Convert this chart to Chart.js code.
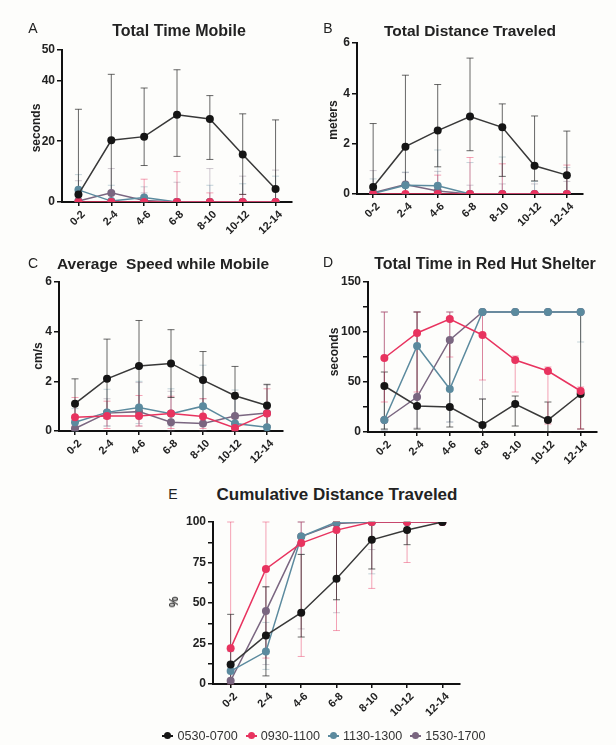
<!DOCTYPE html>
<html><head><meta charset="utf-8">
<script src="https://cdn.jsdelivr.net/npm/chart.js@4"></script>
<style>
html,body{margin:0;padding:0;background:#fdfdfb;}
body{width:616px;height:745px;position:relative;overflow:hidden;font-family:"Liberation Sans",Arial,sans-serif;color:#222;}
canvas{position:absolute;}
.t{position:absolute;font-weight:bold;white-space:nowrap;transform:translate(-50%,-50%);color:#222;}
.l{position:absolute;font-size:14px;white-space:nowrap;transform:translate(-50%,-50%);color:#222;}
.ax{position:absolute;font-weight:bold;font-size:12px;white-space:nowrap;transform:translate(-50%,-50%) rotate(-90deg);color:#222;}
#legend{position:absolute;left:16px;top:729px;width:616px;text-align:center;font-size:12.6px;color:#333;}
#legend span.it{display:inline-block;margin:0 4px;}
#legend i{display:inline-block;position:relative;width:11px;height:2px;vertical-align:middle;margin-right:4px;top:-1px;}
#legend i b{position:absolute;left:2px;top:-3px;width:7px;height:7px;border-radius:50%;}
</style></head>
<body>
<script>
// ---------- DATA ----------
const categories = ['0-2','2-4','4-6','6-8','8-10','10-12','12-14'];
const seriesNames = ['0530-0700','0930-1100','1130-1300','1530-1700'];

// A: Total Time Mobile (seconds)
const mobile0530 = [2.5, 20.3, 21.5, 28.7, 27.3, 15.6, 4.3];
const mobile0530Hi = [30.5, 42, 37.5, 43.5, 35, 29, 27];
const mobile0530Lo = [0, 0, 12, 15, 14, 2.5, 0];
const mobile0930 = [0, 0, 0, 0, 0, 0, 0];
const mobile0930Hi = [0, 0, 7.5, 10, 3, 2.5, 0];
const mobile0930Lo = [0, 0, 0, 0, 0, 0, 0];
const mobile1130 = [4, 0.3, 1.5, 0, 0, 0, 0];
const mobile1130Hi = [9, 5.5, 5, 1, 5.5, 6, 8.5];
const mobile1130Lo = [0, 0, 0, 0, 0, 0, 0];
const mobile1530 = [0.3, 3, 0.5, 0, 0, 0, 0];
const mobile1530Hi = [7, 11, 3, 6.5, 11, 8.5, 10.5];
const mobile1530Lo = [0, 0, 0, 0, 0, 0, 0];
const mobileTicks = [0, 20, 40, 50];

// B: Total Distance Traveled (meters)
const dist0530 = [0.28, 1.88, 2.52, 3.08, 2.65, 1.12, 0.75];
const dist0530Hi = [2.8, 4.72, 4.35, 5.4, 3.58, 3.1, 2.5];
const dist0530Lo = [0, 0, 1.08, 1.72, 0.7, 0.52, 0];
const dist0930 = [0, 0, 0, 0, 0, 0, 0];
const dist0930Hi = [0, 0, 0.75, 1.45, 1.2, 0, 1.15];
const dist0930Lo = [0, 0, 0, 0, 0, 0, 0];
const dist1130 = [0.02, 0.35, 0.33, 0, 0, 0, 0];
const dist1130Hi = [0.6, 0.87, 1.75, 1.25, 1.47, 0.5, 1.05];
const dist1130Lo = [0, 0, 0, 0, 0, 0, 0];
const dist1530 = [0.05, 0.38, 0.12, 0, 0, 0, 0];
const dist1530Hi = [0.93, 0.85, 0.9, 0.35, 0.4, 0.4, 0.5];
const dist1530Lo = [0, 0, 0, 0, 0, 0, 0];
const distTicks = [0, 2, 4, 6];

// C: Average Speed while Mobile (cm/s)
const speed0530 = [1.1, 2.1, 2.62, 2.72, 2.05, 1.42, 1.03];
const speed0530Hi = [2.1, 3.7, 4.45, 4.08, 3.2, 2.6, 1.88];
const speed0530Lo = [0.1, 0.5, 0.8, 1.35, 0.9, 0.25, 0.2];
const speed0930 = [0.55, 0.6, 0.6, 0.7, 0.58, 0.12, 0.7];
const speed0930Hi = [1.35, 1.2, 1.43, 1.4, 1.3, 0.5, 1.7];
const speed0930Lo = [0.2, 0.1, 0.2, 0.1, 0.1, 0, 0.2];
const speed1130 = [0.35, 0.75, 0.95, 0.7, 1.0, 0.3, 0.15];
const speed1130Hi = [0.9, 1.68, 2.0, 1.7, 2.65, 1.65, 0.6];
const speed1130Lo = [0, 0.2, 0.3, 0.2, 0.3, 0, 0];
const speed1530 = [0.1, 0.72, 0.78, 0.35, 0.3, 0.6, 0.72];
const speed1530Hi = [0.6, 1.3, 1.95, 1.6, 1.3, 1.55, 1.85];
const speed1530Lo = [0, 0.2, 0.2, 0, 0, 0.1, 0.2];
const speedTicks = [0, 2, 4, 6];

// D: Total Time in Red Hut Shelter (seconds)
const shelter0530 = [46, 26, 25, 7, 28, 12, 38];
const shelter0530Hi = [60, 120, 92, 33, 36, 30, 120];
const shelter0530Lo = [3, 3, 5, 0, 6, 0, 3];
const shelter0930 = [74, 99, 113, 97, 72, 61, 41];
const shelter0930Hi = [120, 120, 120, 120, 76, 65, 45];
const shelter0930Lo = [30, 40, 75, 52, 40, 8, 3];
const shelter1130 = [12, 86, 43, 120, 120, 120, 120];
const shelter1130Hi = [120, 120, 120, 120, 120, 120, 120];
const shelter1130Lo = [2, 35, 10, 120, 120, 120, 90];
const shelter1530 = [12, 35, 92, 120, 120, 120, 120];
const shelter1530Hi = [120, 120, 120, 120, 120, 120, 120];
const shelter1530Lo = [2, 4, 10, 33, 120, 120, 120];
const shelterTicks = [0, 25, 50, 75, 100, 125, 150];

// E: Cumulative Distance Traveled (%)
const cum0530 = [12, 30, 44, 65, 89, 95, 100];
const cum0530Hi = [43, 60, 80, 100, 100, 100, 100];
const cum0530Lo = [0, 5, 29, 52, 71, 86, 100];
const cum0930 = [22, 71, 87, 95, 100, 100, 100];
const cum0930Hi = [100, 100, 100, 100, 100, 100, 100];
const cum0930Lo = [0, 16, 17, 33, 59, 75, 100];
const cum1130 = [8, 20, 91, 100, 100, 100, 100];
const cum1130Hi = [20, 38, 100, 100, 100, 100, 100];
const cum1130Lo = [0, 9, 80, 100, 68, 100, 100];
const cum1530 = [2, 45, 91, 99, 100, 100, 100];
const cum1530Hi = [10, 60, 100, 100, 100, 100, 100];
const cum1530Lo = [0, 12, 34, 44, 83, 100, 100];
const cumTicks = [0, 12.5, 25, 37.5, 50, 62.5, 75, 87.5, 100];

// ---------- STYLE ----------
const COLORS = ['#151515', '#e8335f', '#5b8a9e', '#7a6680'];
const LINECOLORS = ['#383838', '#e8335f', '#5b8a9e', '#7a6680'];
const ERRCOLORS = ['rgba(40,40,40,0.7)', 'rgba(232,51,95,0.45)', 'rgba(91,138,158,0.35)', 'rgba(122,102,128,0.35)'];
const FONT = "'Liberation Sans', Arial, sans-serif";

const errorBars = {
  id: 'errorBars',
  beforeDatasetsDraw(chart) {
    const ctx = chart.ctx, ys = chart.scales.y;
    for (let i = chart.data.datasets.length - 1; i >= 0; i--) {
      const ds = chart.data.datasets[i];
      const meta = chart.getDatasetMeta(i);
      ctx.save();
      ctx.strokeStyle = ds.errColor;
      ctx.lineWidth = 1;
      meta.data.forEach((pt, j) => {
        const x = pt.x;
        const yv = ys.getPixelForValue(ds.data[j]);
        const yh = ys.getPixelForValue(ds.errHi[j]);
        const yl = ys.getPixelForValue(ds.errLo[j]);
        ctx.beginPath();
        ctx.moveTo(x, yl); ctx.lineTo(x, yh);
        if (Math.abs(yh - yv) > 1) { ctx.moveTo(x - 3.5, yh); ctx.lineTo(x + 3.5, yh); }
        if (Math.abs(yl - yv) > 1) { ctx.moveTo(x - 3.5, yl); ctx.lineTo(x + 3.5, yl); }
        ctx.stroke();
      });
      ctx.restore();
    }
  }
};

function addText(cls, txt, x, y, size) {
  const d = document.createElement('div');
  d.className = cls; d.textContent = txt;
  d.style.left = x + 'px'; d.style.top = y + 'px';
  if (size) d.style.fontSize = size + 'px';
  document.body.appendChild(d);
}

function makePanel(box, series, ymax, ticks, labelEvery) {
  const padL = 50, padT = 12, padR = 12, xH = 46;
  const cv = document.createElement('canvas');
  const w = box.R - box.L + padL + padR, h = box.B - box.T + padT + xH;
  cv.width = w; cv.height = h;
  cv.style.left = (box.L - padL) + 'px'; cv.style.top = (box.T - padT) + 'px';
  cv.style.width = w + 'px'; cv.style.height = h + 'px';
  document.body.appendChild(cv);
  const datasets = series.map((s, i) => ({
    label: seriesNames[s.idx],
    data: s.v, errHi: s.hi, errLo: s.lo,
    errColor: ERRCOLORS[s.idx],
    borderColor: LINECOLORS[s.idx],
    backgroundColor: COLORS[s.idx],
    pointBackgroundColor: COLORS[s.idx],
    pointBorderColor: COLORS[s.idx],
    pointRadius: 4, pointBorderWidth: 0, borderWidth: 1.5, tension: 0
  }));
  new Chart(cv, {
    type: 'line',
    data: { labels: categories, datasets },
    plugins: [errorBars],
    options: {
      responsive: false, animation: false, devicePixelRatio: 1,
      layout: { padding: { left: 0, top: padT, right: padR, bottom: 0 } },
      plugins: { legend: { display: false }, tooltip: { enabled: false }, title: { display: false } },
      scales: {
        x: {
          type: 'category', offset: true,
          grid: { offset: false, drawOnChartArea: false, tickLength: 4, color: '#111', lineWidth: 1.5 },
          border: { color: '#111', width: 2 },
          ticks: { autoSkip: false, maxRotation: 45, minRotation: 45, padding: 2, labelOffset: 5, color: '#222',
                   font: { family: FONT, size: 11, weight: 'bold' } },
          afterFit: s => { s.height = xH; }
        },
        y: {
          min: 0, max: ymax,
          afterBuildTicks: s => { s.ticks = ticks.map(v => ({ value: v })); },
          grid: { drawOnChartArea: false, tickLength: 5, color: '#111', lineWidth: 1.5 },
          border: { color: '#111', width: 2 },
          ticks: { padding: 2, color: '#222', font: { family: FONT, size: 12, weight: 'bold' },
                   callback: v => (v % labelEvery === 0 ? String(v) : '') },
          afterFit: s => { s.width = padL; }
        }
      }
    }
  });
}

// order: first dataset drawn on top
makePanel({ L: 62, T: 50, R: 292, B: 202 }, [
  { idx: 0, v: mobile0530, hi: mobile0530Hi, lo: mobile0530Lo },
  { idx: 1, v: mobile0930, hi: mobile0930Hi, lo: mobile0930Lo },
  { idx: 2, v: mobile1130, hi: mobile1130Hi, lo: mobile1130Lo },
  { idx: 3, v: mobile1530, hi: mobile1530Hi, lo: mobile1530Lo }
], 50, mobileTicks, 10);

makePanel({ L: 357, T: 43, R: 583, B: 194 }, [
  { idx: 0, v: dist0530, hi: dist0530Hi, lo: dist0530Lo },
  { idx: 1, v: dist0930, hi: dist0930Hi, lo: dist0930Lo },
  { idx: 2, v: dist1130, hi: dist1130Hi, lo: dist1130Lo },
  { idx: 3, v: dist1530, hi: dist1530Hi, lo: dist1530Lo }
], 6, distTicks, 2);

makePanel({ L: 59, T: 282, R: 283, B: 431 }, [
  { idx: 0, v: speed0530, hi: speed0530Hi, lo: speed0530Lo },
  { idx: 1, v: speed0930, hi: speed0930Hi, lo: speed0930Lo },
  { idx: 2, v: speed1130, hi: speed1130Hi, lo: speed1130Lo },
  { idx: 3, v: speed1530, hi: speed1530Hi, lo: speed1530Lo }
], 6, speedTicks, 2);

makePanel({ L: 368, T: 282, R: 597, B: 432 }, [
  { idx: 1, v: shelter0930, hi: shelter0930Hi, lo: shelter0930Lo },
  { idx: 0, v: shelter0530, hi: shelter0530Hi, lo: shelter0530Lo },
  { idx: 2, v: shelter1130, hi: shelter1130Hi, lo: shelter1130Lo },
  { idx: 3, v: shelter1530, hi: shelter1530Hi, lo: shelter1530Lo }
], 150, shelterTicks, 50);

makePanel({ L: 213, T: 522, R: 460, B: 684 }, [
  { idx: 0, v: cum0530, hi: cum0530Hi, lo: cum0530Lo },
  { idx: 1, v: cum0930, hi: cum0930Hi, lo: cum0930Lo },
  { idx: 2, v: cum1130, hi: cum1130Hi, lo: cum1130Lo },
  { idx: 3, v: cum1530, hi: cum1530Hi, lo: cum1530Lo }
], 100, cumTicks, 25);

// titles, panel letters, axis titles
addText('t', 'Total Time Mobile', 179, 31, 16);
addText('t', 'Total Distance Traveled', 470, 31, 15.5);
addText('t', 'Average\u00a0 Speed while Mobile', 163, 264, 15.5);
addText('t', 'Total Time in Red Hut Shelter', 485, 264, 16);
addText('t', 'Cumulative Distance Traveled', 337, 495, 17);
addText('l', 'A', 33, 28);
addText('l', 'B', 328, 28);
addText('l', 'C', 33, 263);
addText('l', 'D', 328, 262);
addText('l', 'E', 173, 494);
addText('ax', 'seconds', 36, 128);
addText('ax', 'meters', 333, 120);
addText('ax', 'cm/s', 38, 356);
addText('ax', 'seconds', 334, 352);
addText('ax', '%', 174, 602);

// legend
const lg = document.createElement('div'); lg.id = 'legend';
seriesNames.forEach((n, i) => {
  const it = document.createElement('span'); it.className = 'it';
  const mk = document.createElement('i'); mk.style.background = COLORS[i];
  const dot = document.createElement('b'); dot.style.background = COLORS[i];
  mk.appendChild(dot); it.appendChild(mk);
  it.appendChild(document.createTextNode(n));
  lg.appendChild(it);
});
document.body.appendChild(lg);
</script>
</body></html>
